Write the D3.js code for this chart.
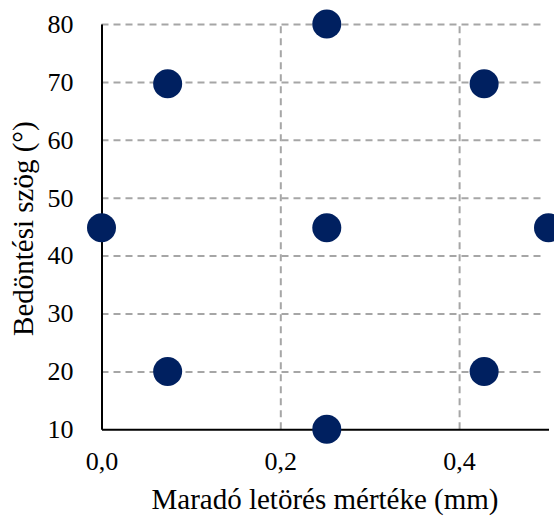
<!DOCTYPE html>
<html>
<head>
<meta charset="utf-8">
<script src="https://cdn.jsdelivr.net/npm/d3@7"></script>
<style>
  body { margin: 0; background: #fff; }
  svg text { font-family: "Liberation Serif", "Times New Roman", Times, serif; fill: #000; }
</style>
</head>
<body>
<svg id="chart" width="554" height="517"></svg>
<script>
// Maradó letörés (mm) vs. bedöntési szög (°)
const xValues = [0.0, 0.074, 0.074, 0.252, 0.252, 0.252, 0.428, 0.428, 0.5];
const yValues = [44.8, 69.7, 20, 80, 44.8, 10, 69.7, 20, 44.8];
const xTicks = [0, 0.2, 0.4];
const yTicks = [10, 20, 30, 40, 50, 60, 70, 80];

const xTitle = "Maradó letörés mértéke (mm)";
const yTitle = "Bedöntési szög (°)";

const svg = d3.select("#chart");
const margin = { top: 24, right: 5.5, bottom: 87.7, left: 101.5 };
const width = +svg.attr("width");
const height = +svg.attr("height");
const innerWidth = width - margin.left - margin.right;
const innerHeight = height - margin.top - margin.bottom;

const xScale = d3.scaleLinear().domain([0, 0.5]).range([0, innerWidth]);
const yScale = d3.scaleLinear().domain([10, 80]).range([innerHeight, 0]);

const g = svg
  .append("g")
  .attr("transform", `translate(${margin.left},${margin.top})`);

const fmt = (d) => d3.format(".1f")(d).replace(".", ",");

// dashed gridlines (axis ticks only, labels dropped)
const yGrid = g
  .append("g")
  .call(d3.axisLeft(yScale).tickValues(yTicks.slice(1)).tickSize(-innerWidth + 5));
const xGrid = g
  .append("g")
  .attr("transform", `translate(0,${innerHeight})`)
  .call(d3.axisBottom(xScale).tickValues(xTicks.slice(1)).tickSize(-innerHeight));

[yGrid, xGrid].forEach((grid) => {
  grid.selectAll(".domain, .tick text").remove();
  grid
    .selectAll(".tick line")
    .attr("stroke", "#a6a6a6")
    .attr("stroke-width", 2)
    .attr("stroke-dasharray", "7,5");
});

// y axis
const yAxisG = g
  .append("g")
  .call(d3.axisLeft(yScale).tickValues(yTicks).tickSize(0).tickPadding(28).tickFormat(d3.format("d")));
yAxisG.attr("font-family", null).attr("font-size", null);
yAxisG.select(".domain").attr("stroke", "#000").attr("stroke-width", 2);
yAxisG.selectAll(".tick text").style("font-size", "26px");

// x axis
const xAxisG = g
  .append("g")
  .attr("transform", `translate(0,${innerHeight})`)
  .call(d3.axisBottom(xScale).tickValues(xTicks).tickSize(0).tickPadding(22).tickFormat(fmt));
xAxisG.attr("font-family", null).attr("font-size", null);
xAxisG.select(".domain").attr("stroke", "#000").attr("stroke-width", 2);
xAxisG.selectAll(".tick text").style("font-size", "26px");

// points
g.selectAll("circle")
  .data(xValues.map((x, i) => ({ x: x, y: yValues[i] })))
  .enter()
  .append("circle")
  .attr("cx", (d) => xScale(d.x))
  .attr("cy", (d) => yScale(d.y))
  .attr("r", 14.5)
  .attr("fill", "#002060");

// axis titles
svg
  .append("text")
  .attr("x", margin.left + innerWidth / 2)
  .attr("y", 509)
  .attr("text-anchor", "middle")
  .style("font-size", "29px")
  .text(xTitle);

svg
  .append("text")
  .attr("transform", `translate(33,${margin.top + innerHeight / 2 + 2}) rotate(-90)`)
  .attr("text-anchor", "middle")
  .style("font-size", "29px")
  .text(yTitle);
</script>
</body>
</html>
